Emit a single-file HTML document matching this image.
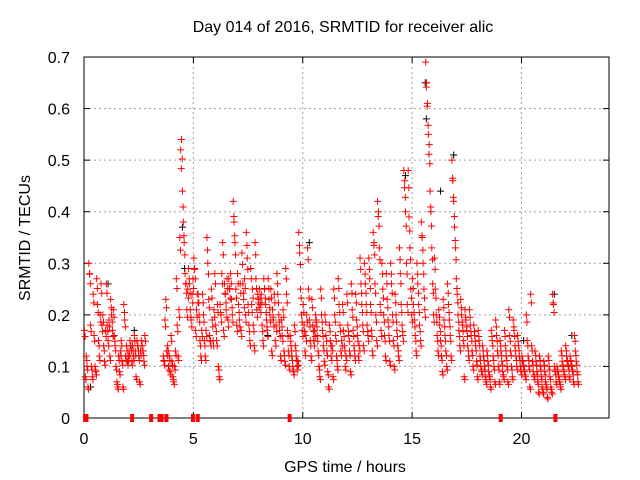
<!DOCTYPE html>
<html><head><meta charset="utf-8"><style>
html,body{margin:0;padding:0;background:#fff;}
svg{display:block;font-family:"Liberation Sans",sans-serif;}
</style></head><body>
<svg id="chart" width="640" height="480" viewBox="0 0 640 480">
<rect x="0" y="0" width="640" height="480" fill="#fff"/>
<g id="grid"></g>
<g id="axes"></g>
<g id="marks"></g>
<text x="343" y="32" text-anchor="middle" font-size="16" fill="#000">Day 014 of 2016, SRMTID for receiver alic</text>
<text x="345" y="472" text-anchor="middle" font-size="16" fill="#000">GPS time / hours</text>
<text x="0" y="0" transform="translate(30,238) rotate(-90)" text-anchor="middle" font-size="16" fill="#000">SRMTID / TECUs</text>
</svg>
<script>
const xTicks = [0, 5, 10, 15, 20];
const yTicks = [0, 0.1, 0.2, 0.3, 0.4, 0.5, 0.6, 0.7];
const yTickLabels = ["0", "0.1", "0.2", "0.3", "0.4", "0.5", "0.6", "0.7"];
const binStarts = [0.0,0.2,0.4,0.6,0.8,1.0,1.2,1.4,1.6,1.8,2.0,2.2,2.4,2.6,
 3.6,3.8,4.0,4.2,4.4,4.6,4.8,5.0,5.2,5.4,5.6,5.8,6.0,6.2,6.4,6.6,6.8,7.0,7.2,7.4,7.6,7.8,
 8.0,8.2,8.4,8.6,8.8,9.0,9.2,9.4,9.6,9.8,10.0,10.2,10.4,10.6,10.8,11.0,11.2,11.4,11.6,11.8,
 12.0,12.2,12.4,12.6,12.8,13.0,13.2,13.4,13.6,13.8,14.0,14.2,14.4,14.6,14.8,15.0,15.2,15.4,15.6,15.8,
 16.0,16.2,16.4,16.6,16.8,17.0,17.2,17.4,17.6,17.8,18.0,18.2,18.4,18.6,18.8,19.0,19.2,19.4,19.6,19.8,
 20.0,20.2,20.4,20.6,20.8,21.0,21.2,21.4,21.6,21.8,22.0,22.2,22.4];
const binValues = [
 [.17,.08,.12,.10,.06],[.30,.28,.18,.10,.08],[.24,.16,.10,.09,.27],[.22,.15,.12,.20,.26],[.18,.20,.14,.11,.17],
 [.26,.18,.15,.19,.12],[.23,.20,.17,.21,.16],[.14,.10,.07,.06,.12],[.09,.13,.15,.11,.06],[.22,.19,.12,.14,.11],
 [.12,.13,.15,.14,.11],[.14,.12,.16,.13,.08],[.15,.14,.12,.07,.13],[.15,.14,.13,.11,.16],
 [.12,.11,.19,.23,.13],[.14,.10,.12,.09,.16],[.11,.08,.07,.10,.13],[.27,.18,.12,.21,.35],[.52,.54,.44,.38,.34],
 [.28,.26,.21,.25,.29],[.26,.21,.19,.24,.27],[.31,.29,.17,.21,.24],[.24,.20,.15,.12,.17],[.24,.20,.15,.12,.17],
 [.35,.30,.23,.16,.15],[.25,.19,.15,.21,.28],[.18,.15,.22,.10,.08],[.22,.20,.28,.34,.17],[.26,.24,.21,.27,.19],
 [.27,.25,.28,.23,.20],[.42,.38,.34,.25,.18],[.28,.22,.19,.26,.17],[.32,.26,.23,.27,.20],[.36,.31,.22,.18,.15],
 [.29,.22,.25,.18,.14],[.34,.27,.21,.24,.23],[.25,.22,.24,.18,.15],[.27,.25,.22,.19,.17],[.27,.23,.20,.25,.13],
 [.21,.19,.24,.15,.18],[.28,.24,.20,.17,.12],[.19,.16,.21,.13,.11],[.29,.24,.17,.13,.10],[.16,.14,.12,.10,.09],
 [.18,.14,.12,.10,.11],[.36,.32,.25,.20,.17],[.22,.18,.13,.16,.20],[.33,.25,.19,.15,.12],[.23,.18,.15,.17,.20],
 [.19,.16,.13,.10,.08],[.25,.20,.17,.14,.11],[.20,.16,.13,.09,.06],[.18,.15,.12,.14,.08],[.25,.20,.16,.12,.10],
 [.27,.22,.18,.13,.15],[.22,.17,.14,.10,.12],[.24,.18,.16,.13,.09],[.26,.21,.17,.14,.12],[.24,.19,.16,.12,.14],
 [.31,.26,.22,.18,.14],[.30,.26,.22,.18,.16],[.31,.27,.22,.17,.13],[.36,.34,.26,.20,.15],[.42,.40,.33,.22,.17],
 [.30,.25,.20,.16,.12],[.28,.23,.19,.16,.11],[.30,.26,.20,.15,.10],[.24,.20,.17,.14,.12],[.33,.28,.22,.18,.16],
 [.48,.46,.40,.30,.22],[.48,.39,.33,.25,.20],[.27,.22,.19,.16,.13],[.30,.26,.22,.18,.15],[.38,.35,.30,.25,.21],
 [.69,.65,.61,.55,.53],[.44,.40,.33,.26,.20],[.31,.25,.20,.16,.13],[.21,.18,.15,.12,.09],[.23,.19,.16,.13,.10],
 [.26,.22,.19,.16,.12],[.50,.46,.42,.37,.33],[.27,.24,.20,.17,.14],[.23,.20,.18,.15,.08],[.21,.19,.17,.14,.12],
 [.21,.18,.16,.13,.10],[.18,.16,.14,.11,.08],[.17,.15,.12,.10,.09],[.14,.12,.10,.08,.07],[.13,.11,.09,.08,.06],
 [.17,.15,.12,.10,.07],[.19,.16,.13,.10,.07],[.15,.13,.11,.09,.08],[.17,.14,.12,.10,.07],[.21,.16,.13,.10,.08],
 [.19,.17,.14,.12,.10],[.16,.14,.12,.10,.09],[.12,.11,.10,.09,.08],[.20,.15,.12,.10,.06],[.24,.14,.11,.09,.08],
 [.13,.11,.09,.07,.05],[.12,.10,.08,.06,.05],[.11,.09,.07,.06,.04],[.12,.10,.08,.06,.05],[.24,.22,.10,.09,.07],
 [.10,.09,.08,.07,.06],[.13,.11,.10,.09,.08],[.14,.12,.11,.10,.08],[.12,.11,.10,.09,.07],[.16,.13,.11,.09,.07]];
const zeroTimes = [0.05, 0.11, 2.2, 3.07, 3.45, 3.55, 3.77, 4.98, 5.2, 9.4, 19.05, 21.55];
const blackTimes = [0.3, 1.1, 2.3, 4.5, 4.6, 8.4, 10.3, 14.7, 15.6, 15.65, 16.3, 16.9, 20.1, 21.5, 22.3];
const blackValues = [0.06, 0.26, 0.17, 0.37, 0.29, 0.16, 0.34, 0.47, 0.65, 0.58, 0.44, 0.51, 0.15, 0.24, 0.16];

const X0 = 84, X1 = 609, Y0 = 418, Y1 = 57, XMAX = 24, YMAX = 0.7;
const sx = t => X0 + (t / XMAX) * (X1 - X0);
const sy = v => Y0 - (v / YMAX) * (Y0 - Y1);
const NS = "http://www.w3.org/2000/svg";
function mk(tag, attrs, parent) {
  const e = document.createElementNS(NS, tag);
  for (const k in attrs) e.setAttribute(k, attrs[k]);
  parent.appendChild(e);
  return e;
}
const grid = document.getElementById('grid');
const axes = document.getElementById('axes');
const marks = document.getElementById('marks');
yTicks.forEach((v, i) => {
  const y = sy(v);
  if (v > 0 && v < YMAX) {
    const g = mk('line', {x1: X0, x2: X1, y1: y, y2: y, stroke: '#a0a0a0', 'stroke-dasharray': '2,3'}, grid);
    
    
  }
  mk('line', {x1: X0, x2: X0 + 6, y1: y, y2: y, stroke: '#000'}, axes);
  mk('line', {x1: X1 - 6, x2: X1, y1: y, y2: y, stroke: '#000'}, axes);
  const t = mk('text', {x: X0 - 14, y: y + 6, 'text-anchor': 'end', 'font-size': 16, fill: '#000'}, axes);
  t.textContent = yTickLabels[i];
  
  
});
xTicks.forEach(v => {
  const x = sx(v);
  if (v > 0) {
    const g = mk('line', {x1: x, x2: x, y1: Y1, y2: Y0, stroke: '#a0a0a0', 'stroke-dasharray': '2,3'}, grid);
    
    
  }
  mk('line', {x1: x, x2: x, y1: Y0, y2: Y0 - 6, stroke: '#000'}, axes);
  mk('line', {x1: x, x2: x, y1: Y1, y2: Y1 + 6, stroke: '#000'}, axes);
  const t = mk('text', {x: x, y: Y0 + 26, 'text-anchor': 'middle', 'font-size': 16, fill: '#000'}, axes);
  t.textContent = String(v);
  
  
});
const frame = mk('rect', {x: X0, y: Y1, width: X1 - X0, height: Y0 - Y1, fill: 'none', stroke: '#000'}, axes);



function plus(x, y, color, name) {
  const p = mk('path', {d: `M${x-3.5},${y}h7M${x},${y-3.5}v7`, stroke: color, 'stroke-width': 1, fill: 'none'}, marks);
  
  
}
blackTimes.forEach((t, i) => plus(sx(t), sy(blackValues[i]), '#000', 'black-point'));
binStarts.forEach((t0, i) => {
  const vals = binValues[i];
  vals.forEach((v, j) => {
    const t = t0 + (j + 0.5) * 0.2 / vals.length;
    plus(sx(t), sy(v), '#ff0000', 'red-point');
    plus(sx(t + 0.03), sy(v * 0.93), '#ff0000', 'red-point');
  });
});
zeroTimes.forEach(t => {
  const z = mk('rect', {x: sx(t) - 2, y: Y0 - 4, width: 4, height: 8, fill: '#ff0000'}, marks);
  
  
});
</script>
</body></html>
